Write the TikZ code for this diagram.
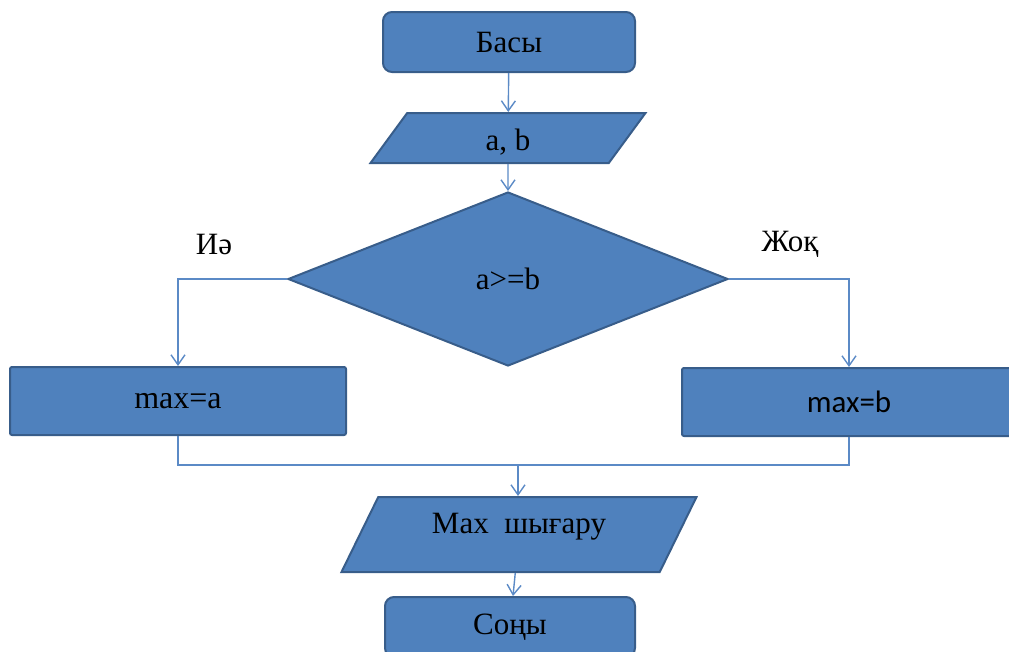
\documentclass[tikz,border=0pt]{standalone}
\usepackage{fontspec}
\setmainfont{Liberation Serif}
\newfontfamily\calfont{Carlito}
\usetikzlibrary{shapes.geometric,arrows.meta}
\definecolor{boxfill}{HTML}{4F81BD}
\definecolor{boxline}{HTML}{385D8A}
\definecolor{wire}{HTML}{5B8AC6}
\begin{document}
\begin{tikzpicture}
  [x=1pt,y=-1pt,every node/.style={font=\fontsize{31}{36}\selectfont},
   blk/.style={draw=boxline,fill=boxfill,line width=2pt,inner sep=0pt},
   term/.style={blk,rounded corners=9pt,minimum width=252pt,minimum height=60pt},
   proc/.style={blk,rounded corners=2pt,minimum height=68pt},
   io/.style={blk,trapezium,trapezium stretches body},
   decide/.style={blk,diamond,minimum width=440pt,minimum height=174pt},
   lbl/.style={inner sep=0pt},
   wire/.style={draw=wire,line width=1.4pt,-{Straight Barb[length=10pt,width=14pt]}}]
  \useasboundingbox (0,0) rectangle (1009,651);
  \node[term] (start) at (509,42) {Басы};
  \node[io,trapezium left angle=46,trapezium right angle=134,
        minimum width=275pt,minimum height=50pt,text height=31pt,text depth=7pt] (in) at (508,138) {a, b};
  \node[decide] (cond) at (508,279) {a>=b};
  \node[proc,minimum width=336pt,font=\fontsize{32}{36}\selectfont] (maxa) at (178,401) {max=a};
  \node[proc,minimum width=334pt,font=\calfont\fontsize{31}{36}\selectfont] (maxb) at (849,402) {max=b};
  \node[io,trapezium left angle=49,trapezium right angle=131,
        minimum width=355pt,minimum height=75pt,text depth=22pt] (out) at (519,534.5) {Max\ \ шығару};
  \node[term,minimum width=250pt] (stop) at (510,627) {Соңы};
  \node[lbl] (yes) at (214,244) {Иә};
  \node[lbl] (no) at (790,244) {Жоқ};
  \coordinate (mrg) at (518,465);
  \foreach \from/\to in {start/in,in/cond,out/stop}
    \draw[wire] (\from) -- (\to);
  \draw[wire] (cond.west) -| (maxa.north);
  \draw[wire] (cond.east) -| (maxb.north);
  \draw[wire,-] (maxa.south) |- (mrg);
  \draw[wire,-] (maxb.south) |- (mrg);
  \draw[wire] (mrg) -- (mrg |- out.north);
\end{tikzpicture}
\end{document}
